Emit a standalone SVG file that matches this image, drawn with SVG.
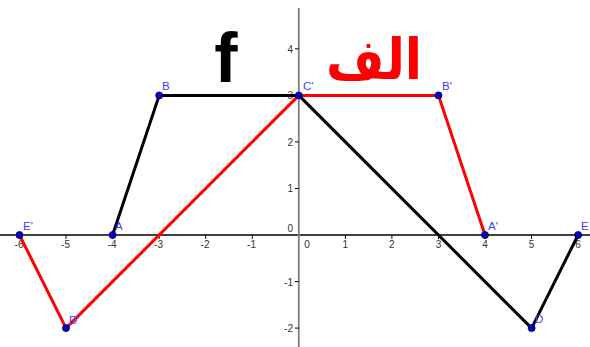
<svg xmlns="http://www.w3.org/2000/svg" width="590" height="347" viewBox="0 0 590 347">
<style>
.tick{stroke:#000;stroke-width:1}
.tl{font-family:"Liberation Sans",Arial,sans-serif;font-size:10px;fill:#333}
.pl{font-family:"Liberation Sans",Arial,sans-serif;font-size:11.5px;fill:#4040ff}
.pt{fill:#0000cc;stroke:#000040;stroke-width:0.8}
.blk{fill:none;stroke:#000;stroke-width:3;stroke-linejoin:round}
.red{fill:none;stroke:#ff0000;stroke-width:3;stroke-linejoin:round}
</style>
<rect width="590" height="347" fill="#fff"/>
<g id="axes">
<line x1="0" y1="235" x2="590" y2="235" stroke="#000" stroke-width="1.5"/>
<line x1="298.8" y1="8" x2="298.8" y2="347" stroke="#808080" stroke-width="1.8"/>
<g class="tick">
<line x1="19.5" y1="235" x2="19.5" y2="239"/>
<line x1="66" y1="235" x2="66" y2="239"/>
<line x1="112.6" y1="235" x2="112.6" y2="239"/>
<line x1="159.2" y1="235" x2="159.2" y2="239"/>
<line x1="205.7" y1="235" x2="205.7" y2="239"/>
<line x1="252.3" y1="235" x2="252.3" y2="239"/>
<line x1="345.4" y1="235" x2="345.4" y2="239"/>
<line x1="391.9" y1="235" x2="391.9" y2="239"/>
<line x1="438.5" y1="235" x2="438.5" y2="239"/>
<line x1="485" y1="235" x2="485" y2="239"/>
<line x1="531.6" y1="235" x2="531.6" y2="239"/>
<line x1="578.1" y1="235" x2="578.1" y2="239"/>
<line x1="295" y1="48.8" x2="298.8" y2="48.8"/>
<line x1="295" y1="95.4" x2="298.8" y2="95.4"/>
<line x1="295" y1="141.9" x2="298.8" y2="141.9"/>
<line x1="295" y1="188.5" x2="298.8" y2="188.5"/>
<line x1="295" y1="281.6" x2="298.8" y2="281.6"/>
<line x1="295" y1="328.1" x2="298.8" y2="328.1"/>
</g>
<g class="tl" text-anchor="middle">
<text x="19" y="248">-6</text>
<text x="65.5" y="248">-5</text>
<text x="112" y="248">-4</text>
<text x="158.5" y="248">-3</text>
<text x="205" y="248">-2</text>
<text x="251.5" y="248">-1</text>
<text x="307" y="248">0</text>
<text x="345.4" y="248">1</text>
<text x="391.9" y="248">2</text>
<text x="438.5" y="248">3</text>
<text x="485" y="248">4</text>
<text x="531.6" y="248">5</text>
<text x="578.1" y="248">6</text>
</g>
<g class="tl" text-anchor="end">
<text x="293" y="52.5">4</text>
<text x="293" y="99">3</text>
<text x="293" y="145.5">2</text>
<text x="293" y="192">1</text>
<text x="293" y="232">0</text>
<text x="293" y="285.5">-1</text>
<text x="293" y="332">-2</text>
</g>
</g>
<g id="connectors">
<polyline class="blk" points="112.6,235 159.2,95.4 298.8,95.4 531.6,328.1 578.1,235"/>
<polyline class="red" points="19.5,235 66,328.1 298.8,95.4 438.5,95.4 485,235"/>
</g>
<g id="title-f"><text x="226" y="82" font-family="Liberation Sans,Arial,sans-serif" font-weight="bold" font-size="70" text-anchor="middle" fill="#000">f</text></g>
<g id="title-alef"><text transform="translate(374,79) scale(0.9,1)" x="0" y="0" font-family="DejaVu Sans,Noto Sans,sans-serif" font-weight="bold" font-size="56" text-anchor="middle" fill="#ff0000" direction="rtl">الف</text></g>
<g id="A"><circle class="pt" cx="112.6" cy="235" r="3.5"/><text class="pl" x="115" y="230">A</text></g>
<g id="B"><circle class="pt" cx="159.2" cy="95.4" r="3.5"/><text class="pl" x="162" y="90">B</text></g>
<g id="C1"><circle class="pt" cx="298.8" cy="95.4" r="3.5"/><text class="pl" x="303" y="90">C'</text></g>
<g id="D"><circle class="pt" cx="531.6" cy="328.1" r="3.5"/><text class="pl" x="535" y="323">D</text></g>
<g id="E"><circle class="pt" cx="578.1" cy="235" r="3.5"/><text class="pl" x="581" y="230">E</text></g>
<g id="E1"><circle class="pt" cx="19.5" cy="235" r="3.5"/><text class="pl" x="23" y="230">E'</text></g>
<g id="D1"><circle class="pt" cx="66" cy="328.1" r="3.5"/><text class="pl" x="69" y="324">D'</text></g>
<g id="B1"><circle class="pt" cx="438.5" cy="95.4" r="3.5"/><text class="pl" x="442" y="90">B'</text></g>
<g id="A1"><circle class="pt" cx="485" cy="235" r="3.5"/><text class="pl" x="488" y="230">A'</text></g>
</svg>
